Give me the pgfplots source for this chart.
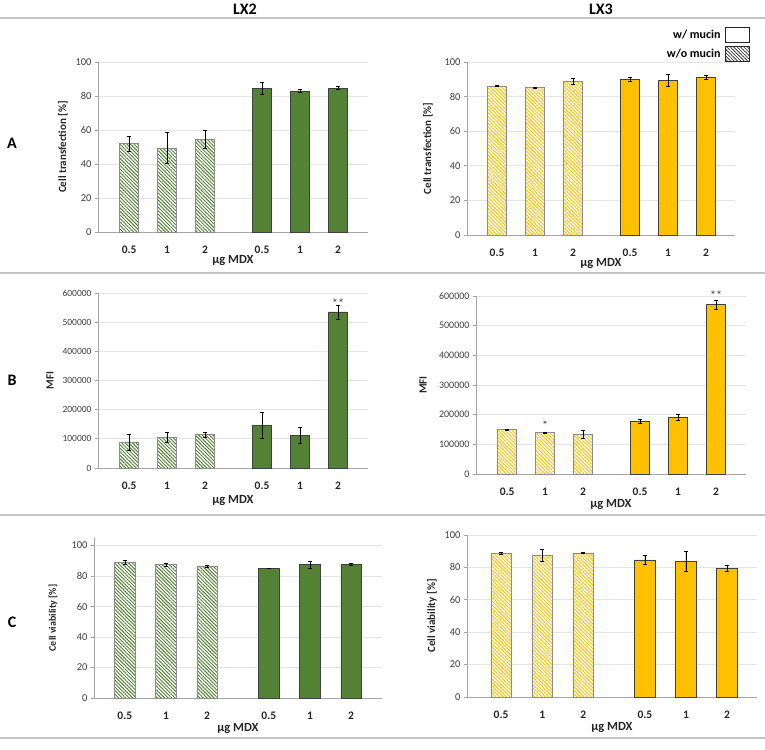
\documentclass[border=0pt]{standalone}
\usepackage{fontspec}
\setmainfont{Carlito}
\usepackage{pgfplots}
\pgfplotsset{compat=1.18}
\usetikzlibrary{patterns.meta}

\definecolor{lxgreen}{HTML}{548235}
\definecolor{lxyellow}{HTML}{FFC000}
\definecolor{axisgray}{HTML}{A6A6A6}
\definecolor{gridgray}{HTML}{E4E4E4}
\definecolor{rulegray}{HTML}{C4C4C4}
\definecolor{ticktext}{HTML}{404040}

\pgfplotsset{
  panel/.style={
    scale only axis,
    axis x line*=bottom, axis y line*=left,
    axis line style={axisgray, line width=0.9pt},
    ymin=0,
    xtick={0,1,2,3.5,4.5,5.5},
    xticklabels={0.5,1,2,0.5,1,2},
    x tick style={draw=none},
    ytick align=outside, major tick length=3pt,
    y tick style={axisgray, line width=0.8pt},
    ymajorgrids, grid style={gridgray, line width=0.7pt},
    xticklabel style={font=\bfseries\fontsize{11.5}{13}\selectfont, anchor=center, yshift=-15pt, text=black!85},
    yticklabel style={font=\fontsize{10.5}{12}\selectfont, text=ticktext},
    /pgf/number format/assume math mode=true,
    /pgf/number format/fixed,
    /pgf/number format/precision=0,
    /pgf/number format/1000 sep={},
    scaled y ticks=false,
    xlabel={µg MDX},
    xlabel style={font=\bfseries\fontsize{12.5}{14}\selectfont, anchor=center, text=black!85},
    ylabel style={font=\bfseries\fontsize{11}{13}\selectfont, anchor=center, text=black!85},
    ybar, bar width=0.5,
    clip=false,
  },
  errs/.style={
    error bars/y dir=both, error bars/y explicit,
    error bars/error bar style={black, line width=0.6pt},
    error bars/error mark options={rotate=90, mark size=2pt, black, line width=0.6pt},
  },
  hatched/.style={bar shift=0pt, fill=white, draw=black!45, line width=0.5pt,
    postaction={pattern={Lines[angle=-45,distance=2.5pt,line width=0.95pt]}, pattern color=#1},
    errs},
  solid/.style={bar shift=0pt, fill=#1, draw=black!75, line width=0.7pt, errs},
}

\begin{document}
\begin{tikzpicture}
\useasboundingbox (0pt,0pt) rectangle (765pt,-749pt);

% section rules
\foreach \yy in {18,273,515,738}
  \draw[rulegray, line width=1.2pt] (0pt,-\yy pt) -- (765pt,-\yy pt);

% column headings and row letters
\node[font=\bfseries\fontsize{16}{18}\selectfont, anchor=base] at (245pt,-15pt) {LX2};
\node[font=\bfseries\fontsize{16}{18}\selectfont, anchor=base] at (601pt,-15pt) {LX3};
\node[font=\bfseries\fontsize{16}{18}\selectfont] at (12pt,-143pt) {A};
\node[font=\bfseries\fontsize{16}{18}\selectfont] at (12pt,-380pt) {B};
\node[font=\bfseries\fontsize{16}{18}\selectfont] at (12pt,-622pt) {C};

% ---------- A: LX2 transfection ----------
\begin{axis}[panel, at={(98pt,-232pt)}, anchor=south west,
  width=270pt, height=170pt, xmin=-0.82, xmax=6.29,
  ymax=100, ytick={0,20,...,100},
  ylabel={Cell transfection [\%]},
  ylabel style={at={(axis description cs:-0.13,0.5)}},
  xlabel style={at={(axis description cs:0.5,-0.17)}}]
\addplot[hatched=lxgreen] coordinates {(0,52.0) +- (0,4.3) (1,49.5) +- (0,9.0) (2,54.6) +- (0,5.5)};
\addplot[solid=lxgreen] coordinates {(3.5,84.5) +- (0,3.5) (4.5,83.0) +- (0,0.8) (5.5,84.7) +- (0,0.8)};
\end{axis}

% ---------- A: LX3 transfection ----------
\begin{axis}[panel, at={(467pt,-235pt)}, anchor=south west,
  width=268pt, height=173pt, xmin=-0.79, xmax=6.26,
  ymax=100, ytick={0,20,...,100},
  ylabel={Cell transfection [\%]},
  ylabel style={at={(axis description cs:-0.146,0.5)}},
  xlabel style={at={(axis description cs:0.5,-0.162)}},
  legend plot pos=right, legend cell align=right,
  legend style={draw=none, fill=none, at={(axis description cs:1.056,1.205)}, anchor=north east,
    font=\bfseries\fontsize{12}{14}\selectfont, row sep=3pt, inner sep=0pt,
    nodes={inner xsep=4pt, inner ysep=1pt}}]
\addplot[hatched=lxyellow, forget plot] coordinates {(0,86.0) +- (0,0.3) (1,85.2) +- (0,0.4) (2,88.7) +- (0,1.7)};
\addplot[solid=lxyellow, forget plot] coordinates {(3.5,90.0) +- (0,1.1) (4.5,89.4) +- (0,3.5) (5.5,91.3) +- (0,1.1)};
\addlegendimage{legend image code/.code={\draw[draw=black!85, fill=white, line width=1.3pt] (0pt,-7.5pt) rectangle (24pt,7.5pt);}}
\addlegendentry{w/ mucin}
\addlegendimage{legend image code/.code={\draw[draw=black!85, fill=white, line width=1.3pt, postaction={pattern={Lines[angle=-45,distance=2.4pt,line width=0.8pt]}, pattern color=black!75}] (0pt,-7.5pt) rectangle (24pt,7.5pt);}}
\addlegendentry{w/o mucin}
\end{axis}

% ---------- B: LX2 MFI ----------
\begin{axis}[panel, at={(98pt,-468pt)}, anchor=south west,
  width=270pt, height=175pt, xmin=-0.82, xmax=6.29,
  ymax=600000, ytick={0,100000,...,600000},
  yticklabel style={font=\fontsize{9.5}{11}\selectfont},
  ylabel={MFI},
  ylabel style={at={(axis description cs:-0.178,0.5)}},
  xlabel style={at={(axis description cs:0.5,-0.183)}}]
\addplot[hatched=lxgreen] coordinates {(0,89000) +- (0,27000) (1,106000) +- (0,17000) (2,115000) +- (0,8500)};
\addplot[solid=lxgreen] coordinates {(3.5,147000) +- (0,45000) (4.5,112000) +- (0,26000) (5.5,535000) +- (0,24000)};
\node[font=\fontsize{12}{13}\selectfont, text=black!80] at (axis cs:5.5,564000) {**};
\end{axis}

% ---------- B: LX3 MFI ----------
\begin{axis}[panel, at={(476pt,-474pt)}, anchor=south west,
  width=270pt, height=178pt, xmin=-0.82, xmax=6.29,
  ymax=600000, ytick={0,100000,...,600000},
  yticklabel style={font=\fontsize{10}{12}\selectfont},
  ylabel={MFI},
  ylabel style={at={(axis description cs:-0.196,0.5)}},
  xlabel style={at={(axis description cs:0.5,-0.174)}}]
\addplot[hatched=lxyellow] coordinates {(0,150000) +- (0,2000) (1,140000) +- (0,2000) (2,134000) +- (0,13000)};
\addplot[solid=lxyellow] coordinates {(3.5,178000) +- (0,8000) (4.5,191000) +- (0,9000) (5.5,571000) +- (0,15000)};
\node[font=\fontsize{12}{13}\selectfont, text=black!80] at (axis cs:1,163000) {*};
\node[font=\fontsize{12}{13}\selectfont, text=black!80] at (axis cs:5.5,604000) {**};
\end{axis}

% ---------- C: LX2 viability ----------
\begin{axis}[panel, at={(94pt,-698pt)}, anchor=south west,
  width=288pt, height=160pt, xmin=-0.75, xmax=6.25,
  ymax=105, ytick={0,20,...,100},
  ylabel={Cell viability [\%]},
  ylabel style={at={(axis description cs:-0.142,0.5)}, font=\bfseries\fontsize{10}{12}\selectfont},
  xlabel style={at={(axis description cs:0.5,-0.1875)}}]
\addplot[hatched=lxgreen] coordinates {(0,89.1) +- (0,1.3) (1,87.6) +- (0,1.0) (2,86.7) +- (0,0.7)};
\addplot[solid=lxgreen] coordinates {(3.5,85.2) +- (0,0.2) (4.5,87.6) +- (0,2.4) (5.5,87.6) +- (0,0.7)};
\end{axis}

% ---------- C: LX3 viability ----------
\begin{axis}[panel, at={(467pt,-697pt)}, anchor=south west,
  width=290pt, height=162pt, xmin=-0.83, xmax=6.23,
  ymax=100, ytick={0,20,...,100},
  ylabel={Cell viability [\%]},
  ylabel style={at={(axis description cs:-0.121,0.5)}},
  xlabel style={at={(axis description cs:0.5,-0.191)}}]
\addplot[hatched=lxyellow] coordinates {(0,88.7) +- (0,0.5) (1,87.4) +- (0,3.8) (2,88.9) +- (0,0.3)};
\addplot[solid=lxyellow] coordinates {(3.5,84.6) +- (0,2.7) (4.5,83.7) +- (0,6.0) (5.5,79.4) +- (0,1.7)};
\end{axis}
\end{tikzpicture}
\end{document}
